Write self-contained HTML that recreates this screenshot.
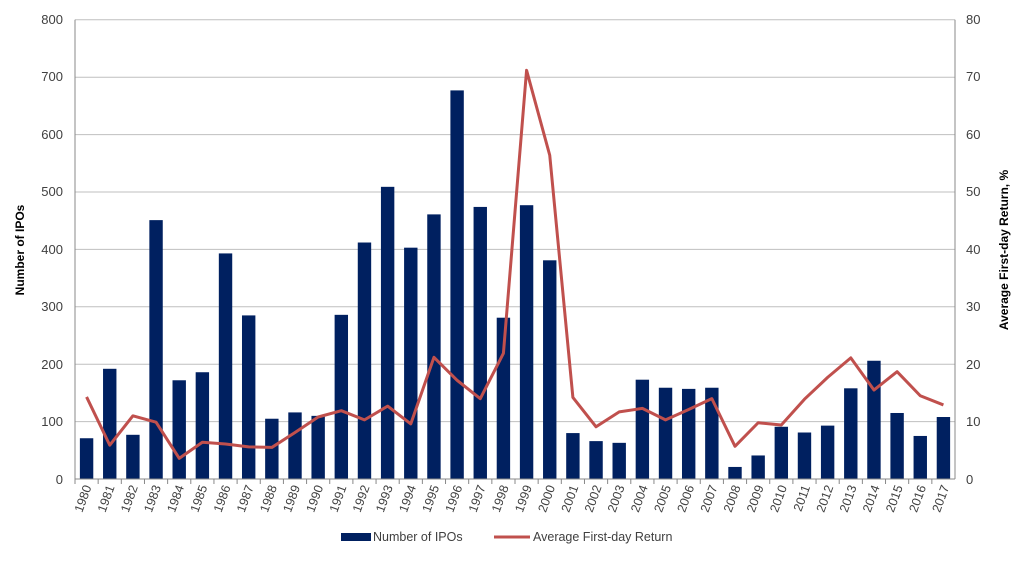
<!DOCTYPE html>
<html><head><meta charset="utf-8"><style>
body{margin:0;background:#fff}
svg{display:block;font-family:"Liberation Sans",sans-serif}
</style></head><body>
<svg id="s" width="1024" height="562" viewBox="0 0 1024 562">
<g stroke="#bfbfbf" stroke-width="1">
<line x1="75" x2="955" y1="19.8" y2="19.8"/><line x1="75" x2="955" y1="77.2" y2="77.2"/>
<line x1="75" x2="955" y1="134.6" y2="134.6"/><line x1="75" x2="955" y1="192" y2="192"/>
<line x1="75" x2="955" y1="249.4" y2="249.4"/><line x1="75" x2="955" y1="306.8" y2="306.8"/>
<line x1="75" x2="955" y1="364.2" y2="364.2"/><line x1="75" x2="955" y1="421.6" y2="421.6"/>
</g>
<g id="bars" fill="#002060"></g>
<polyline id="ln" fill="none" stroke="#c0504d" stroke-width="3" stroke-linejoin="round"/>
<g stroke="#888" stroke-width="1">
<line x1="75" x2="75" y1="19.8" y2="479"/><line x1="955" x2="955" y1="19.8" y2="479"/>
<line x1="75" x2="955" y1="479" y2="479"/>
</g>
<g id="ticks" stroke="#888"></g>
<g font-size="13" fill="#404040" text-anchor="end">
<text x="63" y="484">0</text><text x="63" y="426">100</text><text x="63" y="369">200</text>
<text x="63" y="311">300</text><text x="63" y="254">400</text><text x="63" y="196">500</text>
<text x="63" y="139">600</text><text x="63" y="81">700</text><text x="63" y="24">800</text>
</g>
<g font-size="13" fill="#404040" text-anchor="start">
<text x="966" y="484">0</text><text x="966" y="426">10</text><text x="966" y="369">20</text>
<text x="966" y="311">30</text><text x="966" y="254">40</text><text x="966" y="196">50</text>
<text x="966" y="139">60</text><text x="966" y="81">70</text><text x="966" y="24">80</text>
</g>
<text transform="translate(24,250) rotate(-90)" text-anchor="middle" font-size="12" font-weight="bold" fill="#000">Number of IPOs</text>
<text transform="translate(1008,250) rotate(-90)" text-anchor="middle" font-size="12" font-weight="bold" fill="#000">Average First-day Return, %</text>
<g font-size="12.5" fill="#404040" text-anchor="end">
<text transform="translate(91.6,487) rotate(-70)">1980</text>
<text transform="translate(114.8,487) rotate(-70)">1981</text>
<text transform="translate(138,487) rotate(-70)">1982</text>
<text transform="translate(161.1,487) rotate(-70)">1983</text>
<text transform="translate(184.3,487) rotate(-70)">1984</text>
<text transform="translate(207.5,487) rotate(-70)">1985</text>
<text transform="translate(230.7,487) rotate(-70)">1986</text>
<text transform="translate(253.9,487) rotate(-70)">1987</text>
<text transform="translate(277.1,487) rotate(-70)">1988</text>
<text transform="translate(300.3,487) rotate(-70)">1989</text>
<text transform="translate(323.4,487) rotate(-70)">1990</text>
<text transform="translate(346.6,487) rotate(-70)">1991</text>
<text transform="translate(369.8,487) rotate(-70)">1992</text>
<text transform="translate(393,487) rotate(-70)">1993</text>
<text transform="translate(416.2,487) rotate(-70)">1994</text>
<text transform="translate(439.4,487) rotate(-70)">1995</text>
<text transform="translate(462.5,487) rotate(-70)">1996</text>
<text transform="translate(485.7,487) rotate(-70)">1997</text>
<text transform="translate(508.9,487) rotate(-70)">1998</text>
<text transform="translate(532.1,487) rotate(-70)">1999</text>
<text transform="translate(555.3,487) rotate(-70)">2000</text>
<text transform="translate(578.5,487) rotate(-70)">2001</text>
<text transform="translate(601.7,487) rotate(-70)">2002</text>
<text transform="translate(624.8,487) rotate(-70)">2003</text>
<text transform="translate(648,487) rotate(-70)">2004</text>
<text transform="translate(671.2,487) rotate(-70)">2005</text>
<text transform="translate(694.4,487) rotate(-70)">2006</text>
<text transform="translate(717.6,487) rotate(-70)">2007</text>
<text transform="translate(740.8,487) rotate(-70)">2008</text>
<text transform="translate(763.9,487) rotate(-70)">2009</text>
<text transform="translate(787.1,487) rotate(-70)">2010</text>
<text transform="translate(810.3,487) rotate(-70)">2011</text>
<text transform="translate(833.5,487) rotate(-70)">2012</text>
<text transform="translate(856.7,487) rotate(-70)">2013</text>
<text transform="translate(879.9,487) rotate(-70)">2014</text>
<text transform="translate(903,487) rotate(-70)">2015</text>
<text transform="translate(926.2,487) rotate(-70)">2016</text>
<text transform="translate(949.4,487) rotate(-70)">2017</text>
</g>
<rect x="341" y="533" width="30" height="8" fill="#002060"/>
<text x="373" y="541" font-size="12.5" fill="#404040">Number of IPOs</text>
<line x1="494" x2="530" y1="537" y2="537" stroke="#c0504d" stroke-width="3"/>
<text x="533" y="541" font-size="12.5" fill="#404040">Average First-day Return</text>
</svg>
<script>
var n=[71,192,77,451,172,186,393,285,105,116,110,286,412,509,403,461,677,474,281,477,381,80,66,63,173,159,157,159,21,41,91,81,93,158,206,115,75,108];
var r=[14.3,5.9,11.0,9.9,3.6,6.4,6.1,5.6,5.5,8.1,10.8,11.9,10.3,12.7,9.6,21.2,17.2,14.0,21.9,71.2,56.4,14.2,9.1,11.7,12.3,10.3,12.1,14.0,5.7,9.8,9.4,13.9,17.7,21.1,15.5,18.7,14.5,12.9];
var ns="http://www.w3.org/2000/svg",b=document.getElementById("bars"),t=document.getElementById("ticks"),pts=[];
var w=880/38;
for(var i=0;i<38;i++){var cx=75+w*(i+0.5);var h=n[i]*0.574;
var e=document.createElementNS(ns,"rect");e.setAttribute("x",cx-6.7);e.setAttribute("width",13.4);e.setAttribute("y",479-h);e.setAttribute("height",h);b.appendChild(e);
pts.push(cx+","+(479-r[i]*5.74));
var l=document.createElementNS(ns,"line");var tx=75+w*i;l.setAttribute("x1",tx);l.setAttribute("x2",tx);l.setAttribute("y1",479);l.setAttribute("y2",484);t.appendChild(l);}
document.getElementById("ln").setAttribute("points",pts.join(" "));
</script>
</body></html>
